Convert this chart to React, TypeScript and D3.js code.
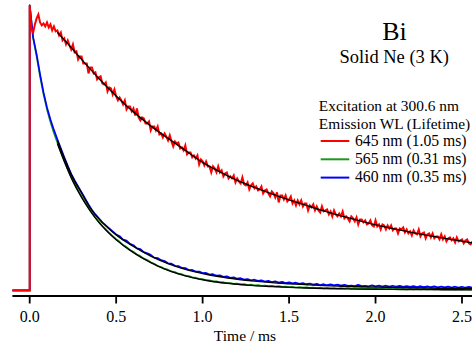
import React from "react";
import * as d3 from "d3";

const W = 472;
const H = 349;

// x axis ticks
const TICK_VALUES = [0, 0.5, 1.0, 1.5, 2.0, 2.5];
const TICK_LABELS = ["0.0", "0.5", "1.0", "1.5", "2.0", "2.5"];

// pre-trigger baseline (time ms, intensity a.u.)
const PRE_TIMES = [-0.1, 0];
const PRE_VALUES = [0, 0];

// 645 nm trace, sampled every 0.01 ms from t = 0
const RED_START = 0;
const RED_STEP = 0.01;
const RED_VALUES = [
  285, 262, 258, 266, 272, 276, 268, 265, 267, 264,
  268, 263, 266, 260, 264, 259,
  260, 255, 258, 250, 252, 246, 250, 245, 241, 246,
  238, 239, 231, 234, 234, 227, 227, 227, 217, 223,
  223, 217, 218, 211, 213, 214, 207, 206, 208, 199,
  203, 202, 196, 201, 194, 190, 193, 190, 186, 190,
  181, 184, 184, 179, 182, 175, 182, 173, 170, 173,
  172, 167, 167, 169, 160, 164, 164, 160, 164, 156,
  157, 153, 157, 154, 150, 155, 149, 144, 149, 147,
  148, 142, 143, 140, 145, 136, 138, 138, 133, 135,
  132, 135, 126, 131, 129, 125, 129, 124, 124, 118,
  124, 122, 118, 124, 118, 120, 114, 117, 118, 112,
  114, 112, 115, 108, 112, 109, 107, 113, 106, 105,
  108, 101, 105, 107, 102, 104, 100, 101, 104, 97,
  100, 101, 97, 94, 99, 97, 93, 98, 88, 95,
  95, 91, 95, 89, 91, 94, 87, 90, 85, 90,
  86, 90, 84, 87, 87, 80, 85, 83, 86, 80,
  84, 80, 78, 84, 79, 80, 81, 76, 79, 74,
  80, 76, 74, 77, 74, 79, 72, 74, 72, 69,
  74, 72, 69, 73, 66, 71, 71, 68, 70, 66,
  67, 70, 65, 64, 70, 64, 66, 61, 66, 65,
  61, 65, 62, 65, 60, 62, 62, 57, 62, 61,
  63, 58, 61, 57, 59, 55, 60, 57, 56, 61,
  54, 57, 58, 52, 56, 57, 53, 57, 52, 54,
  54, 51, 56, 51, 54, 49, 52, 53, 50, 52,
  48, 53, 49, 50, 51, 47, 50, 51, 47, 46,
  49,
];

// 565 nm and 460 nm traces, sampled every 0.02 ms from t = 0
const GB_START = 0;
const GB_STEP = 0.02;
const GREEN_VALUES = [
  285, 252, 234, 214, 196, 181, 168.5, 157.5, 148, 139,
  130, 121.5, 113.5, 106.5, 100, 94, 88, 82.5, 77.5, 73,
  68.5, 64.5, 61, 57.5, 54.2, 51.2, 48.6, 45.4, 43.3, 40.4,
  38.6, 35.9, 34.3, 31.8, 30.4, 28.1, 26.6, 24.4, 23.4, 21.5,
  20.7, 19.0, 18.3, 16.7, 16.2, 14.7, 14.3, 13.0, 12.7, 11.5,
  11.3, 10.2, 10.1, 9.1, 9.1, 8.1, 8.2, 7.3, 7.4, 6.6,
  6.8, 6.0, 6.2, 5.4, 5.7, 5.0, 5.3, 4.6, 4.9, 4.3,
  4.6, 3.9, 4.2, 3.5, 3.9, 3.2, 3.6, 2.9, 3.3, 2.7,
  3.1, 2.5, 2.9, 2.3, 2.7, 2.1, 2.5, 2.0, 2.4, 1.9,
  2.3, 1.7, 2.2, 1.6, 2.1, 1.5, 2.0, 1.5, 1.9, 1.4,
  1.8, 1.3, 1.8, 1.3, 1.7, 1.2, 1.7, 1.2, 1.6, 1.1,
  1.6, 1.1, 1.5, 1.0, 1.5, 1.0, 1.4, 0.9, 1.4, 0.9,
  1.3, 0.9, 1.3, 0.8, 1.2, 0.8, 1.2, 0.8, 1.1,
];
const BLUE_VALUES = [
  285, 253, 236, 216, 198, 183, 171, 160.5, 151, 142,
  133, 124.5, 116.5, 110, 104, 98, 92, 86, 80.5, 76,
  72, 68, 65, 62, 59, 56, 54.2, 50.8, 49.9, 46.5,
  45.2, 42.1, 41.3, 38.3, 37.2, 35.6, 32.8, 32.3, 30.2, 29.4,
  27.1, 26.8, 24.6, 24.4, 22.5, 22.3, 20.4, 20.5, 18.8, 18.9,
  17.3, 17.5, 15.9, 16.2, 14.7, 15.0, 13.6, 14.0, 12.6, 13.0,
  11.7, 12.2, 10.9, 11.4, 10.1, 10.7, 9.5, 10.1, 8.9, 9.5,
  8.3, 9.0, 7.8, 8.5, 7.4, 8.1, 7.0, 7.7, 6.6, 7.3,
  6.2, 6.9, 5.8, 6.5, 5.4, 6.2, 5.2, 6.0, 5.0, 5.8,
  4.8, 5.6, 4.6, 4.9, 4.4, 5.5, 4.3, 4.6, 4.1, 5.0,
  4.0, 4.8, 3.9, 4.7, 3.8, 4.6, 3.7, 4.5, 3.6, 4.4,
  3.5, 4.3, 3.4, 4.2, 3.3, 4.1, 3.2, 4.0, 3.1, 3.9,
  3.0, 3.8, 2.9, 3.7, 2.8, 3.6, 2.7, 3.5, 2.7,
];

// fitted decay curves
const RED_FIT_TIMES = [0.16, 0.2, 0.3, 0.4, 0.5, 0.6, 0.7, 0.8, 0.9, 1.0, 1.1, 1.2, 1.3, 1.4, 1.5, 1.6, 1.7, 1.8, 1.9, 2.0, 2.1, 2.2, 2.3, 2.4, 2.5, 2.57];
const RED_FIT = [258, 250.5, 231, 212, 194.5, 178.5, 164.5, 152, 140, 128, 118.5, 110, 103, 96.5, 90.5, 85, 79.5, 74.5, 70, 65.5, 61.8, 58.3, 55, 52, 49.2, 47.3];
const GB_FIT_TIMES = [0.16, 0.2, 0.25, 0.3, 0.35, 0.4, 0.45, 0.5, 0.6, 0.7, 0.8, 0.9, 1.0, 1.1, 1.2, 1.3, 1.4, 1.5, 1.6, 1.7, 1.8, 1.9, 2.0, 2.1, 2.2, 2.3, 2.4, 2.5, 2.57];
const GREEN_FIT = [147, 129, 109, 93, 79.5, 68, 58.7, 50.7, 37.8, 27.8, 20, 14.5, 10.6, 7.9, 6.1, 4.8, 3.9, 3.0, 2.4, 1.9, 1.6, 1.3, 1.1, 1.0, 0.9, 0.8, 0.7, 0.6, 0.5];
const BLUE_FIT = [150, 132.5, 112.5, 97.5, 82.5, 71.5, 63, 55.5, 44, 34.3, 26.8, 21, 16.8, 13.6, 11.2, 9.3, 7.8, 6.7, 5.7, 4.8, 4.2, 3.7, 3.3, 3.0, 2.7, 2.4, 2.1, 1.9, 1.8];

const LEGEND_HEADER = ["Excitation at 300.6 nm", "Emission WL (Lifetime)"];
const LEGEND_LABELS = ["645 nm (1.05 ms)", "565 nm (0.31 ms)", "460 nm (0.35 ms)"];
const LEGEND_COLORS = ["#ff0000", "#1a9a1a", "#0000ff"];

const FONT = "'Liberation Serif', 'Times New Roman', serif";

type P = [number, number];

function sampled(start: number, step: number, vals: number[]): P[] {
  return vals.map((v, i) => [start + i * step, v] as P);
}
function zipPts(ts: number[], vs: number[]): P[] {
  return ts.map((t, i) => [t, vs[i]] as P);
}

export default function App() {
  const x = d3.scaleLinear().domain([-0.1, 2.56]).range([12.41, 472.37]);
  const y = d3.scaleLinear().domain([0, 285]).range([290.4, 5.4]);
  const axisY = 296;

  const line = d3
    .line<P>()
    .x((d) => x(d[0]))
    .y((d) => y(d[1]));
  const fitLine = d3
    .line<P>()
    .x((d) => x(d[0]))
    .y((d) => y(d[1]))
    .curve(d3.curveMonotoneX);

  const pre = zipPts(PRE_TIMES, PRE_VALUES);
  const red = pre.concat(sampled(RED_START, RED_STEP, RED_VALUES));
  const green = pre.concat(sampled(GB_START, GB_STEP, GREEN_VALUES));
  const blue = pre.concat(sampled(GB_START, GB_STEP, BLUE_VALUES));

  return (
    <svg
      width={W}
      height={H}
      style={{ position: "absolute", left: 0, top: 0, background: "#fff" }}
      fontFamily={FONT}
    >
      <defs>
        <clipPath id="plotClip">
          <rect x={0} y={0} width={W} height={axisY - 1} />
        </clipPath>
      </defs>
      <g clipPath="url(#plotClip)" fill="none" strokeLinejoin="round">
        <path d={line(green) || ""} stroke={LEGEND_COLORS[1]} strokeWidth={1.7} />
        <path d={line(blue) || ""} stroke={LEGEND_COLORS[2]} strokeWidth={1.7} />
        <path d={line(red) || ""} stroke={LEGEND_COLORS[0]} strokeWidth={2} strokeLinejoin="miter" />
        <path d={fitLine(zipPts(GB_FIT_TIMES, GREEN_FIT)) || ""} stroke="#000" strokeWidth={1.4} />
        <path d={fitLine(zipPts(GB_FIT_TIMES, BLUE_FIT)) || ""} stroke="#000" strokeWidth={1.4} />
        <path d={fitLine(zipPts(RED_FIT_TIMES, RED_FIT)) || ""} stroke="#000" strokeWidth={1.4} />
      </g>

      {/* x axis */}
      <line x1={x(-0.1)} x2={W} y1={axisY} y2={axisY} stroke="#000" strokeWidth={2} />
      {TICK_VALUES.map((t, i) => (
        <g key={t} transform={`translate(${x(t)},0)`}>
          <line y1={axisY} y2={axisY + 7.5} stroke="#000" strokeWidth={1.8} />
          <text y={321.7} textAnchor="middle" fontSize={16} fill="#000">
            {TICK_LABELS[i]}
          </text>
        </g>
      ))}
      <text x={245} y={341} textAnchor="middle" fontSize={15.5} fill="#000">
        Time / ms
      </text>

      {/* titles */}
      <text x={394.5} y={39.5} textAnchor="middle" fontSize={26} fill="#000">
        Bi
      </text>
      <text x={394.3} y={63.3} textAnchor="middle" fontSize={18.5} fill="#000">
        Solid Ne (3 K)
      </text>

      {/* legend */}
      {LEGEND_HEADER.map((s, i) => (
        <text key={s} x={318.8} y={110.5 + i * 18.2} fontSize={15.4} fill="#000">
          {s}
        </text>
      ))}
      {LEGEND_LABELS.map((s, i) => (
        <g key={s}>
          <line
            x1={320.7}
            x2={349.3}
            y1={141 + i * 18.3}
            y2={141 + i * 18.3}
            stroke={LEGEND_COLORS[i]}
            strokeWidth={2}
          />
          <text x={355} y={146 + i * 18.2} fontSize={15.7} fill="#000">
            {s}
          </text>
        </g>
      ))}
    </svg>
  );
}
